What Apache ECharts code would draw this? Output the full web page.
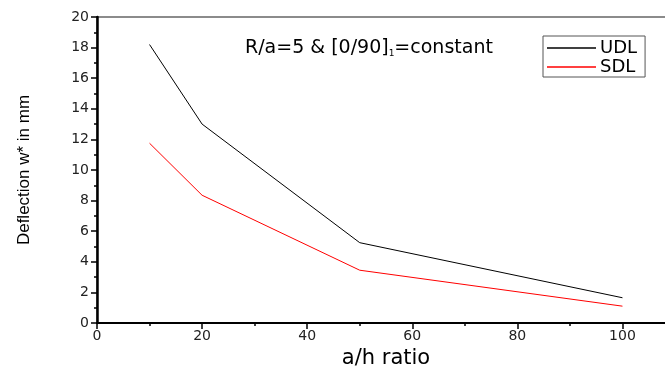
<!DOCTYPE html>
<html><head><meta charset="utf-8">
<script src="https://cdn.jsdelivr.net/npm/echarts@6/dist/echarts.min.js"></script>
<style>html,body{margin:0;padding:0;background:#fff}#c{width:665px;height:369px}</style>
</head><body><div id="c"></div>
<script>
const xValues = [10, 20, 50, 100];
const udl = [18.2, 13.0, 5.25, 1.65];
const sdl = [11.75, 8.35, 3.45, 1.1];
const seriesNames = ['UDL', 'SDL'];
const seriesColors = ['#000000', '#ff0000'];
const xTitle = 'a/h ratio';
const yTitle = 'Deflection w* in mm';

const wide = '"DejaVu Sans", Verdana, sans-serif';
const font = 'Arial, "Liberation Sans", sans-serif';
const chart = echarts.init(document.getElementById('c'));
chart.setOption({
  animation: false,
  backgroundColor: '#fff',
  title: {
    text: 'R/a=5 & [0/90]{s|1}=constant',
    left: 240, top: 33,
    textStyle: { fontFamily: wide, fontSize: 19, fontWeight: 'normal', color: '#000',
      rich: { s: { fontFamily: wide, fontSize: 9, color: '#000', verticalAlign: 'bottom', padding: [11, 0, 0, 0] } } }
  },
  legend: {
    left: 543, top: 36, orient: 'vertical',
    icon: 'rect', itemWidth: 49, itemHeight: 1.5, itemGap: 1,
    borderColor: '#555', borderWidth: 1, padding: [3, 8, 1, 4],
    textStyle: { fontFamily: wide, fontSize: 18, color: '#000', padding: [0, 0, 0, -1] },
    data: seriesNames.map((n, i) => ({ name: n, itemStyle: { color: seriesColors[i] } }))
  },
  grid: { left: 97, top: 17, bottom: 46, right: -10, containLabel: false, outerBoundsMode: 'none',
    show: true, borderColor: '#666', borderWidth: 1.5 },
  xAxis: {
    type: 'value', min: 0, max: 110, interval: 20,
    name: xTitle, nameLocation: 'middle', nameGap: 22,
    nameTextStyle: { fontFamily: wide, fontSize: 21, color: '#000' },
    axisLine: { onZero: false, lineStyle: { color: '#000', width: 2 } },
    axisTick: { show: true, length: 6, lineStyle: { color: '#000', width: 1.5 } },
    minorTick: { show: true, splitNumber: 2, length: 3, lineStyle: { color: '#000', width: 1.5 } },
    axisLabel: { fontFamily: wide, fontSize: 14, color: '#222', margin: 6,
      formatter: v => (v % 20 === 0 && v <= 100) ? String(v) : '' },
    splitLine: { show: false }
  },
  yAxis: {
    type: 'value', min: 0, max: 20, interval: 2,
    name: yTitle, nameLocation: 'middle', nameGap: 64,
    nameTextStyle: { fontFamily: font, fontSize: 17, color: '#000' },
    axisLine: { onZero: false, lineStyle: { color: '#000', width: 2.5 } },
    axisTick: { show: true, length: 6, lineStyle: { color: '#000', width: 1.5 } },
    minorTick: { show: true, splitNumber: 2, length: 3, lineStyle: { color: '#000', width: 1.5 } },
    axisLabel: { fontFamily: wide, fontSize: 14, color: '#222', margin: 8 },
    splitLine: { show: false }
  },
  series: seriesNames.map((n, k) => ({
    name: n, type: 'line', symbol: 'none', color: seriesColors[k],
    lineStyle: { color: seriesColors[k], width: 1 },
    data: xValues.map((x, i) => [x, (k === 0 ? udl : sdl)[i]])
  }))
});
</script></body></html>
